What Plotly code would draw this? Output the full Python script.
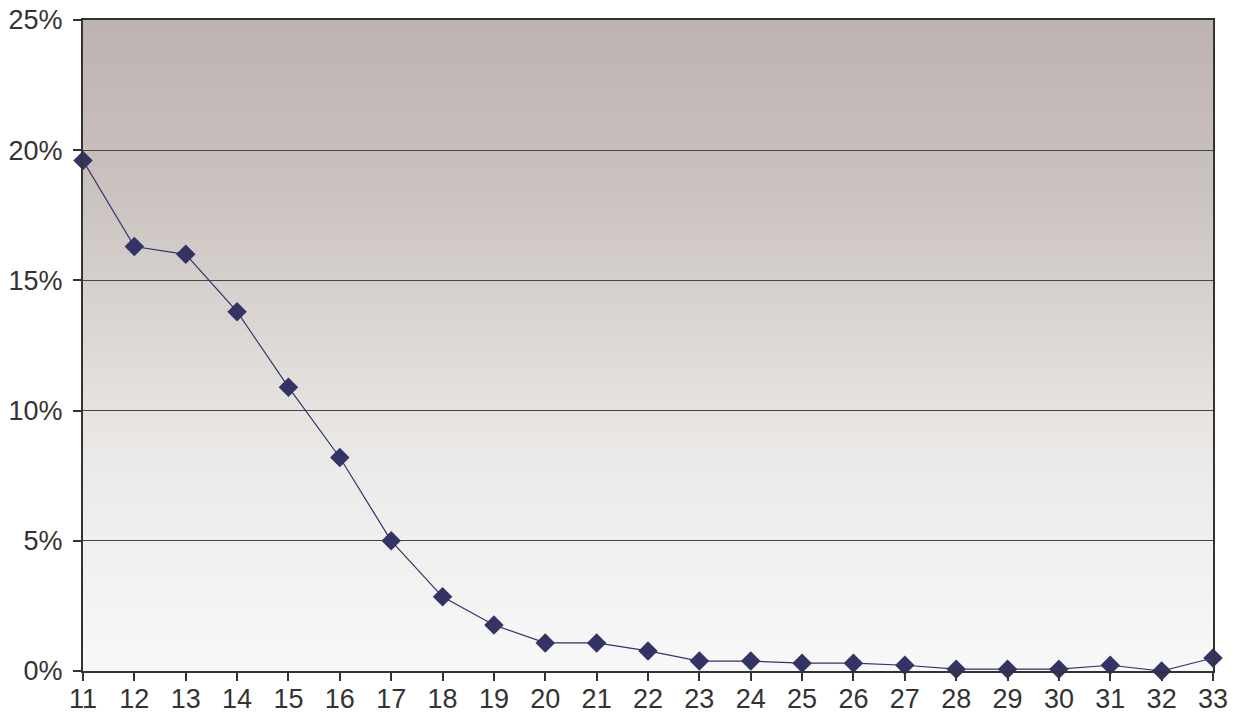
import base64
import plotly.graph_objects as go

ages = list(range(11, 34))
values = [19.6, 16.3, 16.0, 13.8, 10.9, 8.2, 5.0, 2.85, 1.77, 1.08, 1.08, 0.77,
          0.38, 0.38, 0.3, 0.3, 0.22, 0.07, 0.07, 0.07, 0.22, 0.0, 0.5]
y_ticks = [0, 5, 10, 15, 20, 25]
y_tick_labels = ["0%", "5%", "10%", "15%", "20%", "25%"]

x_min, x_max = ages[0], ages[-1]
y_min, y_max = y_ticks[0], y_ticks[-1]

# vertical gradient background image (top -> bottom)
svg = (
    '<svg xmlns="http://www.w3.org/2000/svg" width="100" height="100" preserveAspectRatio="none">'
    '<defs><linearGradient id="g" x1="0" y1="0" x2="0" y2="1">'
    '<stop offset="0" stop-color="#bdb3b0"/>'
    '<stop offset="0.27" stop-color="#cbc3c0"/>'
    '<stop offset="0.68" stop-color="#eceae8"/>'
    '<stop offset="1" stop-color="#f8f8f8"/>'
    '</linearGradient></defs>'
    '<rect width="100" height="100" fill="url(#g)"/></svg>'
)
svg_uri = "data:image/svg+xml;base64," + base64.b64encode(svg.encode()).decode()

fig = go.Figure()

fig.add_trace(go.Scatter(
    x=ages, y=values,
    mode="lines+markers",
    line=dict(color="#333366", width=1.2),
    marker=dict(symbol="diamond", size=15, color="#333366"),
    cliponaxis=False,
    showlegend=False,
))

fig.add_layout_image(dict(
    source=svg_uri, xref="paper", yref="paper", x=0, y=1,
    sizex=1, sizey=1, sizing="stretch", layer="below",
    xanchor="left", yanchor="top",
))

fig.update_layout(
    width=1231, height=716,
    margin=dict(l=75, r=26, t=12, b=53),
    paper_bgcolor="white",
    plot_bgcolor="white",
    font=dict(family="Liberation Sans, Arial, sans-serif", size=27, color="#333333"),
)
fig.update_xaxes(
    range=[x_min, x_max], tickmode="array", tickvals=ages,
    ticktext=[str(a) for a in ages], automargin=False,
    showgrid=False, showline=True, linecolor="#333333", linewidth=2,
    ticks="outside", ticklen=8, tickcolor="#333333", tickwidth=1.5,
    mirror=True, zeroline=False, ticklabelstandoff=-5,
    ticklabeloverflow="allow",
)
fig.update_yaxes(
    range=[y_min, y_max], tickmode="array", tickvals=y_ticks, ticktext=y_tick_labels,
    automargin=False,
    showgrid=True, gridcolor="#444444", gridwidth=1,
    showline=True, linecolor="#333333", linewidth=2,
    ticks="outside", ticklen=8, tickcolor="#333333", tickwidth=1.5,
    mirror=True, zeroline=False, ticklabelstandoff=5,
    ticklabeloverflow="allow",
)

fig.write_html("out.html")
